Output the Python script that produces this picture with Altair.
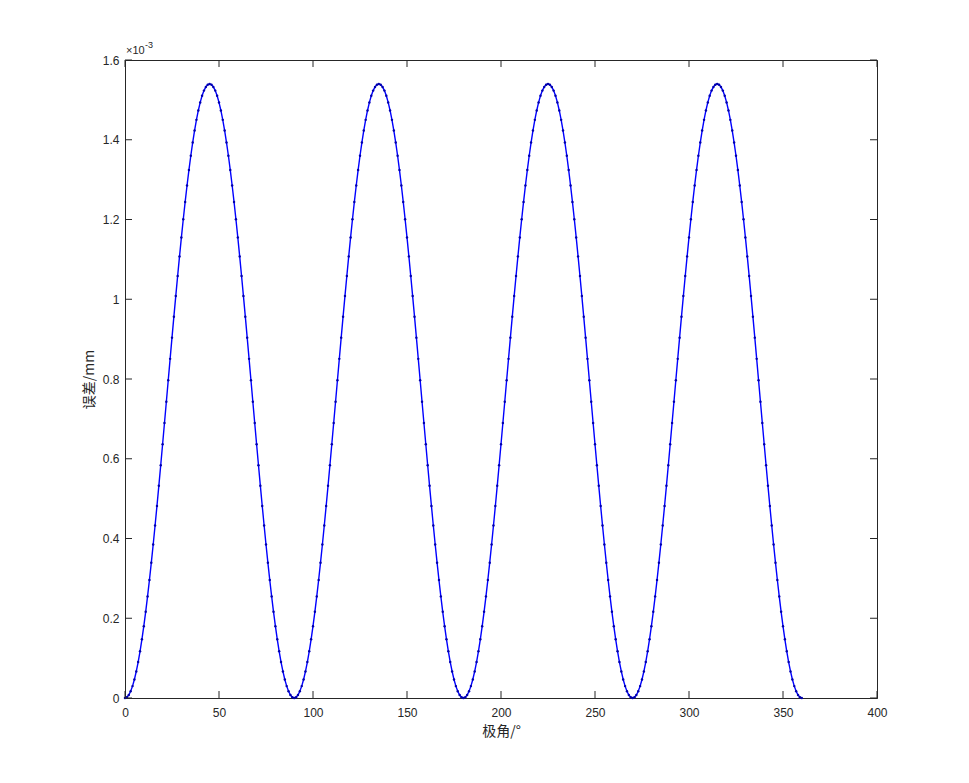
import altair as alt
import pandas as pd

# Values in units of 1e-3 mm, one per degree
quarter_1 = [0, 0.0019, 0.0075, 0.0168, 0.0298, 0.0464, 0.0666, 0.0901, 0.1170, 0.1471,
             0.1801, 0.2161, 0.2548, 0.2959, 0.3394, 0.385, 0.4325, 0.4816, 0.5321, 0.5837,
             0.6363, 0.6895, 0.7431, 0.7969, 0.8505, 0.9037, 0.9563, 1.0079, 1.0584, 1.1075,
             1.155, 1.2006, 1.2441, 1.2852, 1.3239, 1.3599, 1.3929, 1.4230, 1.4499, 1.4734,
             1.4936, 1.5102, 1.5232, 1.5325, 1.5381, 1.54, 1.5381, 1.5325, 1.5232, 1.5102,
             1.4936, 1.4734, 1.4499, 1.4230, 1.3929, 1.3599, 1.3239, 1.2852, 1.2441, 1.2006,
             1.155, 1.1075, 1.0584, 1.0079, 0.9563, 0.9037, 0.8505, 0.7969, 0.7431, 0.6895,
             0.6363, 0.5837, 0.5321, 0.4816, 0.4325, 0.385, 0.3394, 0.2959, 0.2548, 0.2161,
             0.1801, 0.1471, 0.1170, 0.0901, 0.0666, 0.0464, 0.0298, 0.0168, 0.0075, 0.0019,
             0]
quarter_2 = [0.0019, 0.0075, 0.0168, 0.0298, 0.0464, 0.0666, 0.0901, 0.1170, 0.1471,
             0.1801, 0.2161, 0.2548, 0.2959, 0.3394, 0.385, 0.4325, 0.4816, 0.5321, 0.5837,
             0.6363, 0.6895, 0.7431, 0.7969, 0.8505, 0.9037, 0.9563, 1.0079, 1.0584, 1.1075,
             1.155, 1.2006, 1.2441, 1.2852, 1.3239, 1.3599, 1.3929, 1.4230, 1.4499, 1.4734,
             1.4936, 1.5102, 1.5232, 1.5325, 1.5381, 1.54, 1.5381, 1.5325, 1.5232, 1.5102,
             1.4936, 1.4734, 1.4499, 1.4230, 1.3929, 1.3599, 1.3239, 1.2852, 1.2441, 1.2006,
             1.155, 1.1075, 1.0584, 1.0079, 0.9563, 0.9037, 0.8505, 0.7969, 0.7431, 0.6895,
             0.6363, 0.5837, 0.5321, 0.4816, 0.4325, 0.385, 0.3394, 0.2959, 0.2548, 0.2161,
             0.1801, 0.1471, 0.1170, 0.0901, 0.0666, 0.0464, 0.0298, 0.0168, 0.0075, 0.0019,
             0]
quarter_3 = [0.0019, 0.0075, 0.0168, 0.0298, 0.0464, 0.0666, 0.0901, 0.1170, 0.1471,
             0.1801, 0.2161, 0.2548, 0.2959, 0.3394, 0.385, 0.4325, 0.4816, 0.5321, 0.5837,
             0.6363, 0.6895, 0.7431, 0.7969, 0.8505, 0.9037, 0.9563, 1.0079, 1.0584, 1.1075,
             1.155, 1.2006, 1.2441, 1.2852, 1.3239, 1.3599, 1.3929, 1.4230, 1.4499, 1.4734,
             1.4936, 1.5102, 1.5232, 1.5325, 1.5381, 1.54, 1.5381, 1.5325, 1.5232, 1.5102,
             1.4936, 1.4734, 1.4499, 1.4230, 1.3929, 1.3599, 1.3239, 1.2852, 1.2441, 1.2006,
             1.155, 1.1075, 1.0584, 1.0079, 0.9563, 0.9037, 0.8505, 0.7969, 0.7431, 0.6895,
             0.6363, 0.5837, 0.5321, 0.4816, 0.4325, 0.385, 0.3394, 0.2959, 0.2548, 0.2161,
             0.1801, 0.1471, 0.1170, 0.0901, 0.0666, 0.0464, 0.0298, 0.0168, 0.0075, 0.0019,
             0]
quarter_4 = [0.0019, 0.0075, 0.0168, 0.0298, 0.0464, 0.0666, 0.0901, 0.1170, 0.1471,
             0.1801, 0.2161, 0.2548, 0.2959, 0.3394, 0.385, 0.4325, 0.4816, 0.5321, 0.5837,
             0.6363, 0.6895, 0.7431, 0.7969, 0.8505, 0.9037, 0.9563, 1.0079, 1.0584, 1.1075,
             1.155, 1.2006, 1.2441, 1.2852, 1.3239, 1.3599, 1.3929, 1.4230, 1.4499, 1.4734,
             1.4936, 1.5102, 1.5232, 1.5325, 1.5381, 1.54, 1.5381, 1.5325, 1.5232, 1.5102,
             1.4936, 1.4734, 1.4499, 1.4230, 1.3929, 1.3599, 1.3239, 1.2852, 1.2441, 1.2006,
             1.155, 1.1075, 1.0584, 1.0079, 0.9563, 0.9037, 0.8505, 0.7969, 0.7431, 0.6895,
             0.6363, 0.5837, 0.5321, 0.4816, 0.4325, 0.385, 0.3394, 0.2959, 0.2548, 0.2161,
             0.1801, 0.1471, 0.1170, 0.0901, 0.0666, 0.0464, 0.0298, 0.0168, 0.0075, 0.0019,
             0]

errors = quarter_1 + quarter_2 + quarter_3 + quarter_4
angles = list(range(0, len(errors)))

x_ticks = [0, 50, 100, 150, 200, 250, 300, 350, 400]
y_ticks = [0, 0.2, 0.4, 0.6, 0.8, 1.0, 1.2, 1.4, 1.6]

W, H = 752, 638
AXC = "#262626"
FONT = "Liberation Sans"
CJK = "Noto Sans CJK SC"

df = pd.DataFrame({"angle": angles, "err": errors})
xt = pd.DataFrame({"v": x_ticks})
yt = pd.DataFrame({"v": y_ticks})

xscale = alt.Scale(domain=[0, 400], nice=False, zero=False)
yscale = alt.Scale(domain=[0, 1.6], nice=False, zero=False)

xaxis = alt.Axis(values=x_ticks, format="d", title="极角/°", tickSize=0, labelPadding=9,
                 labelFont=FONT, labelFontSize=12, labelColor=AXC, domainColor=AXC,
                 titleFont=CJK, titleFontSize=14, titleFontWeight="normal", titleColor=AXC,
                 titlePadding=6, grid=False, labelFlush=False)
yaxis = alt.Axis(values=y_ticks, title="误差/mm", tickSize=0, labelPadding=6,
                 labelExpr="datum.value == 0 ? '0' : datum.value == 1 ? '1' : format(datum.value, '.1f')",
                 labelFont=FONT, labelFontSize=12, labelColor=AXC, domainColor=AXC,
                 titleFont=CJK, titleFontSize=14, titleFontWeight="normal", titleColor=AXC,
                 titlePadding=6, grid=False, labelFlush=False)

line = alt.Chart(df).mark_line(
    color="#0000ff", strokeWidth=1.4,
    point=alt.OverlayMarkDef(filled=True, size=6, color="#0000aa", opacity=1),
).encode(
    x=alt.X("angle:Q", scale=xscale, axis=xaxis),
    y=alt.Y("err:Q", scale=yscale, axis=yaxis),
)

tick_bottom = alt.Chart(xt).mark_rule(color=AXC, strokeWidth=1).encode(
    x=alt.X("v:Q", scale=xscale), y=alt.value(H), y2=alt.value(H - 7))
tick_top = alt.Chart(xt).mark_rule(color=AXC, strokeWidth=1).encode(
    x=alt.X("v:Q", scale=xscale), y=alt.value(0), y2=alt.value(7))
tick_left = alt.Chart(yt).mark_rule(color=AXC, strokeWidth=1).encode(
    y=alt.Y("v:Q", scale=yscale), x=alt.value(0), x2=alt.value(7))
tick_right = alt.Chart(yt).mark_rule(color=AXC, strokeWidth=1).encode(
    y=alt.Y("v:Q", scale=yscale), x=alt.value(W), x2=alt.value(W - 7))

exp_base = alt.Chart(pd.DataFrame({"t": ["×10"]})).mark_text(
    font=FONT, fontSize=11, color=AXC, align="left", baseline="middle"
).encode(text="t:N", x=alt.value(1), y=alt.value(-9))
exp_sup = alt.Chart(pd.DataFrame({"t": ["-3"]})).mark_text(
    font=FONT, fontSize=9, color=AXC, align="left", baseline="middle"
).encode(text="t:N", x=alt.value(20), y=alt.value(-15))

chart = alt.layer(
    line, tick_bottom, tick_top, tick_left, tick_right, exp_base, exp_sup
).properties(
    width=W, height=H,
    autosize=alt.AutoSizeParams(type="none"),
    padding={"left": 117, "top": 52, "right": 60, "bottom": 50},
    background="white",
).configure_view(
    stroke=AXC, strokeWidth=1
)

chart.save("out.html", embed_options={"renderer": "svg", "actions": False})
